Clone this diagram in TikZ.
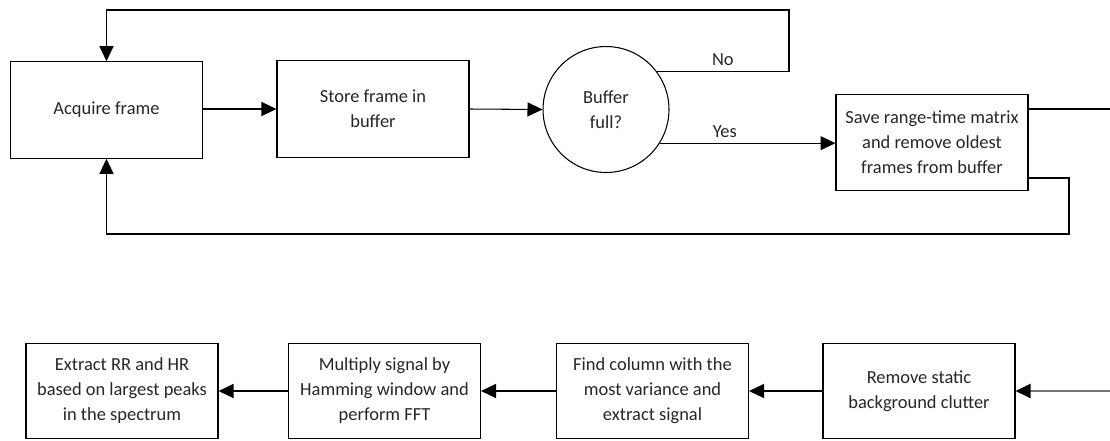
\documentclass[tikz,border=0pt]{standalone}
\usepackage{fontspec}
\setmainfont{Carlito}
\usetikzlibrary{arrows.meta,calc}
\begin{document}
\begin{tikzpicture}[x=0.02cm, y=-0.02cm,
  font=\fontsize{10.5}{14.2}\selectfont,
  proc/.style={draw, line width=0.6pt, minimum width=3.84cm, minimum height=1.93cm,
    align=center, inner sep=2pt, text=black!85},
  dec/.style={draw, circle, line width=0.6pt, minimum size=2.52cm, align=center,
    text=black!85},
  flow/.style={line width=0.6pt, -{Triangle[length=0.3cm, width=0.28cm, color=black]}},
  wire/.style={line width=0.6pt},
  lbl/.style={above, text=black!85, inner sep=3pt}]
  \useasboundingbox (0,0) rectangle (1110,440);

  % top row
  \node[proc] (acq) at (106.5,110) {Acquire frame};
  \node[proc] (store) at (373,109) {Store frame in\\buffer};
  \node[dec] (full) at (606,109.5) {Buffer\\full?};
  \node[proc] (save) at (932,142.5) {Save range-time matrix\\and remove oldest\\frames from buffer};

  % bottom row
  \node[proc, minimum height=1.9cm] (clutter) at (919,391) {Remove static\\background clutter};
  \node[proc, minimum height=1.9cm] (column) at (652.5,391) {Find column with the\\most variance and\\extract signal};
  \node[proc, minimum height=1.9cm] (fft) at (384.5,391) {Multiply signal by\\Hamming window and\\perform FFT};
  \node[proc, minimum height=1.9cm] (extract) at (122,391) {Extract RR and HR\\based on largest peaks\\in the spectrum};

  \coordinate (noC) at (789,10);
  \coordinate (backC) at (1069,178);
  \coordinate (edgeT) at (1110,109);
  \coordinate (edgeB) at (1110,391);

  \draw[flow] (acq.east |- store.west) -- (store.west);
  \draw[flow] (store.east) -- (full.west);
  \draw[flow] (full.-32) -- (full.-32 -| save.west) node[lbl, pos=0.37] {Yes};
  \draw[flow] (full.37) -| node[lbl, pos=0.25] {No} (noC) -| (acq.north);

  \draw[wire] (save.east |- edgeT) -- (edgeT);
  \draw[flow] (save.east |- backC) -- (backC) -- ++(0,56) -| (acq.south);

  \draw[flow, draw=black!55, line width=1.1pt] (edgeB) -- (clutter.east);
  \draw[flow] (clutter.west) -- (column.east);
  \draw[flow] (column.west) -- (fft.east);
  \draw[flow] (fft.west) -- (extract.east);
\end{tikzpicture}
\end{document}
